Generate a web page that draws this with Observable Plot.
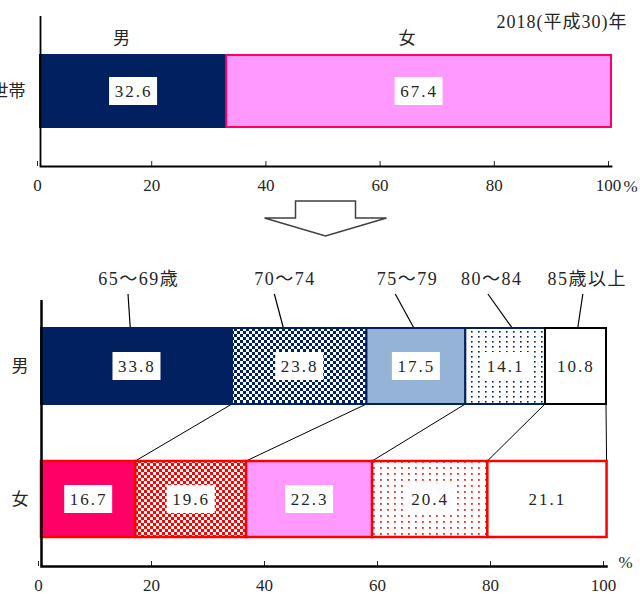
<!DOCTYPE html>
<html>
<head>
<meta charset="utf-8">
<script src="https://cdn.jsdelivr.net/npm/d3@7"></script>
<script src="https://cdn.jsdelivr.net/npm/@observablehq/plot@0.6"></script>
<style>
  html, body { margin: 0; padding: 0; background: #fff; }
  #chart svg { display: block; }
  .val text { letter-spacing: 2px; }
  .age text { letter-spacing: 1.5px; }
  .year text { letter-spacing: 1px; }
</style>
</head>
<body>
<div id="chart"></div>
<script>
// 単独世帯の男女別構成比と、男女別の年齢階級構成比（2018年）
const sexes = ["男", "女"];
const householdShare = [32.6, 67.4];
const ageGroups = ["65～69歳", "70～74", "75～79", "80～84", "85歳以上"];
const maleShare = [33.8, 23.8, 17.5, 14.1, 10.8];
const femaleShare = [16.7, 19.6, 22.3, 20.4, 21.1];
const xTicks = [0, 20, 40, 60, 80, 100];
const rowLabel = "単独世帯";
const yearLabel = "2018(平成30)年";
const unitLabel = "%";

// Where each age label and its leader line sit, on the x scale
const labelAt = [17.2, 43.1, 64.8, 79.7, 96.6];
const leaderTop = [15.4, 41.3, 62.7, 79.1, 95.9];
const leaderFoot = [15.8, 42.9, 66.0, 83.4, 95.0];

// Colours and fill patterns
const NAVY = "#002060", PINK = "#FF99FF", CRIMSON = "#FF0066", RED = "#FF0000", STEEL = "#95B3D7";
const householdFill = [NAVY, PINK];
const householdStroke = [NAVY, CRIMSON];
const ageFill = {
  "男": [NAVY, "url(#checkNavy)", STEEL, "url(#dotsNavy)", "#ffffff"],
  "女": [CRIMSON, "url(#checkRed)", PINK, "url(#dotsRed)", "#ffffff"]
};
const ageStroke = {
  "男": [NAVY, NAVY, NAVY, NAVY, "#000000"],
  "女": [RED, RED, RED, RED, RED]
};

const serif = "'Liberation Serif', 'Noto Sans CJK JP', serif";
const sansJa = "'Noto Sans CJK JP', sans-serif";
const ink = "#262626";

// Running totals give each segment its start, end and middle
function stack(values) {
  let acc = 0;
  return values.map(v => {
    const x1 = acc;
    acc += v;
    return {x1, x2: acc, mid: (x1 + acc) / 2, value: v};
  });
}

const topRows = stack(householdShare).map((d, i) => ({
  ...d, row: rowLabel, sex: sexes[i], fill: householdFill[i], stroke: householdStroke[i]
}));

const ageRows = sexes.flatMap((s, si) =>
  stack(si === 0 ? maleShare : femaleShare).map((d, i) => ({
    ...d, sex: s, age: ageGroups[i], fill: ageFill[s][i], stroke: ageStroke[s][i]
  }))
);
const maleRows = ageRows.filter(d => d.sex === "男");
const femaleRows = ageRows.filter(d => d.sex === "女");

const fmt = d => d.value.toFixed(1);

// Block arrow between the two panels (pixel offsets from the axis line)
const arrowShape = [[-30, 35], [30, 35], [30, 52], [61, 52], [0, 70], [-61, 52], [-30, 52]];

const topChart = Plot.plot({
  width: 640, height: 250,
  marginLeft: 40, marginRight: 29, marginTop: 16, marginBottom: 84,
  style: {fontFamily: serif, fontSize: "17px", color: ink, background: "#fff"},
  x: {domain: [0, 100]},
  y: {domain: [rowLabel], paddingInner: 0.35, paddingOuter: 0.35},
  color: {type: "identity"},
  marks: [
    Plot.barX(topRows, {x1: "x1", x2: "x2", y: "row", fill: "fill", stroke: "stroke", strokeWidth: 2}),
    Plot.barX(topRows, {x1: "mid", x2: "mid", y: "row", fill: "#fff", insetLeft: -24, insetRight: -24, insetTop: 22, insetBottom: 22}),
    Plot.text(topRows, {x: "mid", y: "row", text: fmt, fontSize: 17, fill: ink, className: "val"}),
    Plot.text(topRows, {x: "mid", y: "row", text: "sex", dx: -12, dy: -53, fontSize: 17, fontFamily: sansJa, fill: ink}),
    Plot.axisY({tickSize: 0, tickPadding: 15, fontSize: 17, fontFamily: sansJa, label: null}),
    Plot.axisX({ticks: xTicks, tickSize: -5, tickPadding: 17, tickFormat: d => d, fontSize: 17, dx: -3, label: null}),
    Plot.ruleX([0], {stroke: "#000", strokeWidth: 1.8}),
    Plot.frame({anchor: "bottom", stroke: "#000", strokeWidth: 1.8}),
    Plot.text([yearLabel], {frameAnchor: "top-right", dx: 16, dy: 6, textAnchor: "end", lineAnchor: "middle", fontSize: 18, fill: ink, className: "year"}),
    Plot.text([unitLabel], {frameAnchor: "bottom-right", dx: 19, dy: 20, textAnchor: "middle", lineAnchor: "middle", fontSize: 17, fill: ink}),
    (index, scales, values, dims) => {
      const cx = scales.x(50);
      const yb = dims.height - dims.marginBottom;
      const g = d3.create("svg:g");
      g.append("polygon")
        .attr("points", arrowShape.map(([dx, dy]) => [cx + dx, yb + dy].join(",")).join(" "))
        .attr("fill", "#fff")
        .attr("stroke", "#404040")
        .attr("stroke-width", 1.5);
      return g.node();
    }
  ]
});

const bottomChart = Plot.plot({
  width: 640, height: 344,
  marginLeft: 41, marginRight: 34, marginTop: 50, marginBottom: 28,
  style: {fontFamily: serif, fontSize: "17px", color: ink, background: "#fff"},
  x: {domain: [0, 100]},
  y: {domain: sexes, paddingInner: 0.428, paddingOuter: 0.214},
  color: {type: "identity"},
  marks: [
    // Fill patterns
    () => {
      const svg = d3.create("svg:g");
      const defs = svg.append("defs");
      const checker = (id, c, s) => {
        const p = defs.append("pattern").attr("id", id).attr("patternUnits", "userSpaceOnUse")
          .attr("width", 2 * s).attr("height", 2 * s);
        p.append("rect").attr("width", 2 * s).attr("height", 2 * s).attr("fill", "#fff");
        p.append("rect").attr("width", s).attr("height", s).attr("fill", c);
        p.append("rect").attr("x", s).attr("y", s).attr("width", s).attr("height", s).attr("fill", c);
      };
      const dots = (id, c, w, h, s) => {
        const p = defs.append("pattern").attr("id", id).attr("patternUnits", "userSpaceOnUse")
          .attr("width", w).attr("height", h);
        p.append("rect").attr("width", w).attr("height", h).attr("fill", "#fff");
        p.append("rect").attr("x", 2).attr("y", 1).attr("width", s).attr("height", s).attr("fill", c);
      };
      checker("checkNavy", NAVY, 3);
      checker("checkRed", RED, 3);
      dots("dotsNavy", NAVY, 7, 5, 1.6);
      dots("dotsRed", "#FF2020", 7, 6, 1.8);
      return svg.node();
    },
    // Leader lines to the age labels, and lines joining the segment boundaries of the two bars
    (index, {x, y}, values, dims) => {
      const g = d3.create("svg:g").attr("stroke", "#000").attr("fill", "none");
      const maleTop = y("男");
      const maleBottom = y("男") + y.bandwidth();
      const femaleTop = y("女");
      const labelFoot = dims.marginTop - 6;
      maleRows.forEach((d, i) => {
        g.append("line")
          .attr("x1", x(leaderTop[i])).attr("y1", labelFoot)
          .attr("x2", x(leaderFoot[i])).attr("y2", maleTop)
          .attr("stroke-width", 1.2);
        g.append("line")
          .attr("x1", x(d.x2)).attr("y1", maleBottom)
          .attr("x2", x(femaleRows[i].x2)).attr("y2", femaleTop)
          .attr("stroke-width", 1);
      });
      return g.node();
    },
    Plot.barX(maleRows, {x1: "x1", x2: "x2", y: "sex", fill: "fill", stroke: "stroke", strokeWidth: 2}),
    Plot.barX(femaleRows, {x1: "x1", x2: "x2", y: "sex", fill: "fill", stroke: "stroke", strokeWidth: 2.5}),
    Plot.barX(ageRows, {x1: "mid", x2: "mid", y: "sex", fill: "#fff", insetLeft: -24, insetRight: -24, insetTop: 24, insetBottom: 24}),
    Plot.text(ageRows, {x: "mid", y: "sex", text: fmt, fontSize: 17, fill: ink, className: "val"}),
    Plot.text(maleRows, {x: (d, i) => labelAt[i], text: "age", frameAnchor: "top", dy: -21, lineAnchor: "middle", fontSize: 18, fill: ink, className: "age"}),
    Plot.axisY({tickSize: 0, tickPadding: 13, fontSize: 17, fontFamily: sansJa, label: null}),
    Plot.axisX({ticks: xTicks, tickSize: -5, tickPadding: 17, tickFormat: d => d, fontSize: 17, dx: -3, label: null}),
    Plot.ruleX([0], {stroke: "#000", strokeWidth: 2.5}),
    Plot.frame({anchor: "bottom", stroke: "#000", strokeWidth: 2.5}),
    Plot.text([unitLabel], {frameAnchor: "bottom-right", dx: 19, dy: -4, textAnchor: "middle", lineAnchor: "middle", fontSize: 17, fill: ink})
  ]
});

const root = document.getElementById("chart");
root.append(topChart, bottomChart);
</script>
</body>
</html>
